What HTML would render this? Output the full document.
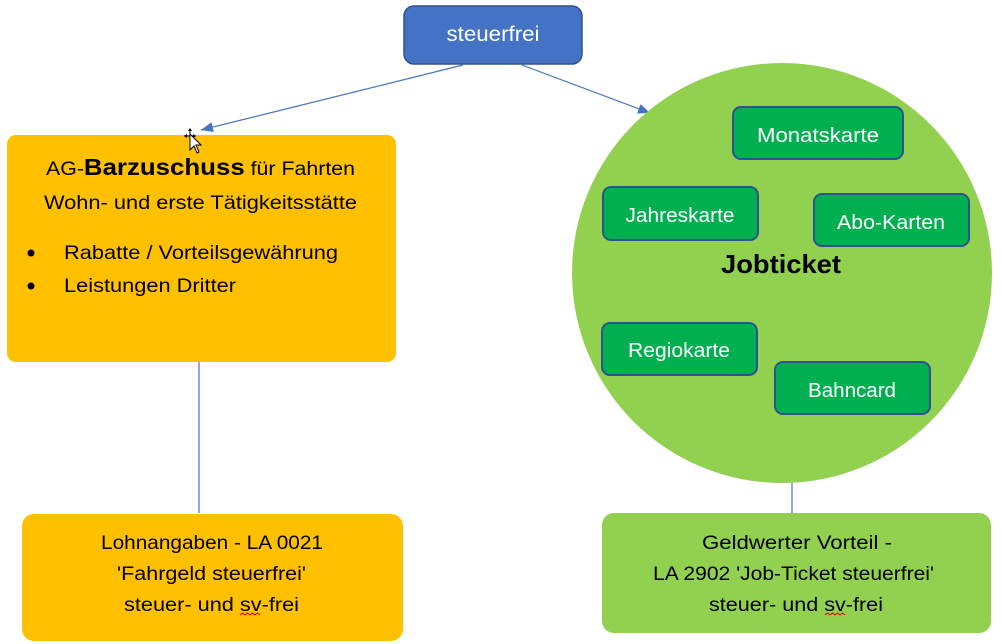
<!DOCTYPE html>
<html>
<head>
<meta charset="utf-8">
<style>
  html, body { margin:0; padding:0; background:#ffffff; }
  body { width:1004px; height:644px; overflow:hidden; }
  svg { display:block; }
  text { font-family: "Liberation Sans", "DejaVu Sans", sans-serif; }
</style>
</head>
<body>
<svg width="1004" height="644" viewBox="0 0 1004 644" xmlns="http://www.w3.org/2000/svg">
  <defs>
    <marker id="ah" markerWidth="12" markerHeight="10" refX="12" refY="5" orient="auto" markerUnits="userSpaceOnUse">
      <path d="M0,0 L12,5 L0,10 Z" fill="#4472C4"/>
    </marker>
  </defs>

  <!-- connectors -->
  <line x1="463" y1="65" x2="201" y2="130" stroke="#4472C4" stroke-width="1.2" marker-end="url(#ah)"/>
  <line x1="522" y1="65" x2="650" y2="113" stroke="#4472C4" stroke-width="1.2" marker-end="url(#ah)"/>
  <line x1="199" y1="362" x2="199" y2="513" stroke="#4472C4" stroke-width="1.2"/>
  <line x1="792" y1="483" x2="792" y2="513" stroke="#4472C4" stroke-width="1.2"/>

  <!-- top box -->
  <rect x="404" y="6" width="178" height="58" rx="10" fill="#4472C4" stroke="#2F528F" stroke-width="1.5"/>
  <text x="493" y="41" font-size="21" fill="#ffffff" text-anchor="middle" textLength="93" lengthAdjust="spacingAndGlyphs">steuerfrei</text>

  <!-- left orange box -->
  <rect x="7" y="135" width="389" height="227" rx="9" fill="#FFC000"/>
  <text x="46" y="175" font-size="19" fill="#000" textLength="309" lengthAdjust="spacingAndGlyphs">AG-<tspan font-weight="bold" font-size="23">Barzuschuss</tspan> für Fahrten</text>
  <text x="44" y="209" font-size="19.5" fill="#000" textLength="313" lengthAdjust="spacingAndGlyphs">Wohn- und erste Tätigkeitsstätte</text>
  <circle cx="31" cy="253" r="3.5" fill="#000"/>
  <text x="64" y="259" font-size="19.5" fill="#000" textLength="274" lengthAdjust="spacingAndGlyphs">Rabatte / Vorteilsgewährung</text>
  <circle cx="31" cy="286" r="3.5" fill="#000"/>
  <text x="64" y="292" font-size="19.5" fill="#000" textLength="172" lengthAdjust="spacingAndGlyphs">Leistungen Dritter</text>

  <!-- cursor -->
  <g stroke="#000" stroke-width="1" fill="#000">
    <line x1="184" y1="136" x2="196" y2="136"/>
    <line x1="190" y1="129" x2="190" y2="142"/>
    <path d="M190,128 l-2,3 h4 z M184,136 l3,-2 v4 z M196,136 l-3,-2 v4 z" stroke="none"/>
  </g>
  <path d="M190,134 L190,150 L194,146 L197,153 L199,152 L196,145 L201,145 Z" fill="#fff" stroke="#000" stroke-width="1"/>

  <!-- bottom-left box -->
  <rect x="22" y="514" width="381" height="127" rx="12" fill="#FFC000"/>
  <text x="101" y="549" font-size="19.5" fill="#000" textLength="222" lengthAdjust="spacingAndGlyphs">Lohnangaben - LA 0021</text>
  <text x="117" y="580" font-size="19.5" fill="#000" textLength="189" lengthAdjust="spacingAndGlyphs">'Fahrgeld steuerfrei'</text>
  <text x="124" y="611" font-size="19.5" fill="#000" textLength="175" lengthAdjust="spacingAndGlyphs">steuer- und sv-frei</text>
  <path d="M240,615 l2.5,-2 l2.5,2 l2.5,-2 l2.5,2 l2.5,-2 l2.5,2 l2.5,-2 l2.5,2" stroke="#E00000" stroke-width="1" fill="none"/>

  <!-- circle -->
  <circle cx="782" cy="273" r="210" fill="#92D050"/>
  <rect x="733" y="107" width="170" height="52" rx="8" fill="#00B050" stroke="#2F528F" stroke-width="2"/>
  <text x="818" y="142" font-size="20" fill="#fff" text-anchor="middle" textLength="122" lengthAdjust="spacingAndGlyphs">Monatskarte</text>
  <rect x="603" y="187" width="155" height="53" rx="8" fill="#00B050" stroke="#2F528F" stroke-width="2"/>
  <text x="680" y="222" font-size="20" fill="#fff" text-anchor="middle" textLength="109" lengthAdjust="spacingAndGlyphs">Jahreskarte</text>
  <rect x="814" y="194" width="155" height="52" rx="8" fill="#00B050" stroke="#2F528F" stroke-width="2"/>
  <text x="891" y="229" font-size="20" fill="#fff" text-anchor="middle" textLength="108" lengthAdjust="spacingAndGlyphs">Abo-Karten</text>
  <rect x="602" y="323" width="155" height="52" rx="8" fill="#00B050" stroke="#2F528F" stroke-width="2"/>
  <text x="679" y="357" font-size="20" fill="#fff" text-anchor="middle" textLength="102" lengthAdjust="spacingAndGlyphs">Regiokarte</text>
  <rect x="775" y="362" width="155" height="52" rx="8" fill="#00B050" stroke="#2F528F" stroke-width="2"/>
  <text x="852" y="397" font-size="20" fill="#fff" text-anchor="middle" textLength="88" lengthAdjust="spacingAndGlyphs">Bahncard</text>
  <text x="781" y="273" font-size="26" font-weight="bold" fill="#000" text-anchor="middle" textLength="120" lengthAdjust="spacingAndGlyphs">Jobticket</text>

  <!-- bottom-right box -->
  <rect x="602" y="513" width="389" height="120" rx="12" fill="#92D050"/>
  <text x="702" y="549" font-size="19.5" fill="#000" textLength="190" lengthAdjust="spacingAndGlyphs">Geldwerter Vorteil -</text>
  <text x="653" y="580" font-size="19.5" fill="#000" textLength="281" lengthAdjust="spacingAndGlyphs">LA 2902 'Job-Ticket steuerfrei'</text>
  <text x="709" y="611" font-size="19.5" fill="#000" textLength="174" lengthAdjust="spacingAndGlyphs">steuer- und sv-frei</text>
  <path d="M825,615 l2.5,-2 l2.5,2 l2.5,-2 l2.5,2 l2.5,-2 l2.5,2 l2.5,-2 l2.5,2" stroke="#E00000" stroke-width="1" fill="none"/>
</svg>
</body>
</html>
